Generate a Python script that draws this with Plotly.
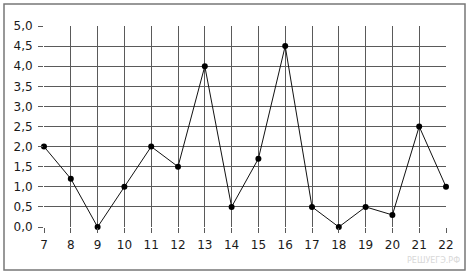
import plotly.graph_objects as go

days = [7, 8, 9, 10, 11, 12, 13, 14, 15, 16, 17, 18, 19, 20, 21, 22]
values = [2.0, 1.2, 0.0, 1.0, 2.0, 1.5, 4.0, 0.5, 1.7, 4.5, 0.5, 0.0, 0.5, 0.3, 2.5, 1.0]
y_ticks = [0.0, 0.5, 1.0, 1.5, 2.0, 2.5, 3.0, 3.5, 4.0, 4.5, 5.0]
y_labels = [f"{v:.1f}".replace(".", ",") for v in y_ticks]
x_labels = [str(d) for d in days]

W, H = 467, 274
L, R, T, B = 44, 21, 26, 47
pw, ph = W - L - R, H - T - B

def px(x):
    return (x - L) / pw

def py(y):
    return (H - B - y) / ph

fig = go.Figure()
fig.add_trace(go.Scatter(
    x=days, y=values, mode="lines+markers",
    line=dict(color="#111111", width=1),
    marker=dict(color="#000000", size=6),
    showlegend=False, cliponaxis=False,
))

grid = "#5a5a5a"
fig.update_layout(
    width=W, height=H,
    margin=dict(l=L, r=R, t=T, b=B, pad=0),
    paper_bgcolor="white", plot_bgcolor="white",
    font=dict(family="DejaVu Sans", size=12, color="#1a1a1a"),
    xaxis=dict(range=[7, 22], tickvals=days, ticktext=x_labels,
               showgrid=True, gridcolor=grid, gridwidth=1.3,
               ticks="outside", ticklen=5, tickcolor=grid, tickwidth=1.3,
               ticklabelstandoff=2,
               showline=False, zeroline=False, fixedrange=True),
    yaxis=dict(range=[0, 5], tickvals=y_ticks, ticktext=y_labels,
               showgrid=True, gridcolor=grid, gridwidth=1.3,
               ticks="outside", ticklen=5, tickcolor=grid, tickwidth=1.3,
               ticklabelstandoff=3,
               showline=False, zeroline=False, fixedrange=True),
    shapes=[dict(type="rect", xref="paper", yref="paper",
                 x0=px(4), x1=px(465), y0=py(270), y1=py(4),
                 line=dict(color="#777777", width=1.5), layer="below")],
    annotations=[dict(text="РЕШУЕГЭ.РФ", xref="paper", yref="paper",
                      x=px(462), y=py(260), xanchor="right", yanchor="middle",
                      showarrow=False, font=dict(size=8, color="#d8d8d8"))],
)

fig.write_html("out.html")
